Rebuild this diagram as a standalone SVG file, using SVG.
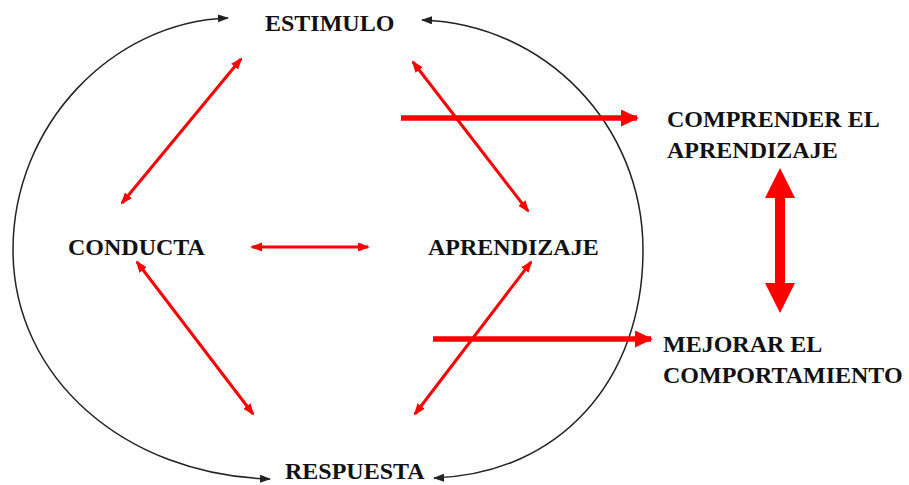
<svg xmlns="http://www.w3.org/2000/svg" width="909" height="485" viewBox="0 0 909 485">
  <style>
    text { font-family: "Liberation Serif", "Times New Roman", serif; font-weight: bold; font-size: 24px; fill: #111; }
    .arc { fill: none; stroke: #222; stroke-width: 1.5; }
    .thin { stroke: #ff0000; stroke-width: 3; fill: none; }
    .thick { stroke: #ff0000; stroke-width: 5.5; fill: none; }
  </style>
  <defs>
    <marker id="hBlack" markerUnits="userSpaceOnUse" markerWidth="12" markerHeight="9" refX="10" refY="4" orient="auto-start-reverse">
      <path d="M0,0 L11,4 L0,8 z" fill="#222"/>
    </marker>
    <marker id="hRed" markerUnits="userSpaceOnUse" markerWidth="13" markerHeight="10" refX="10" refY="4.5" orient="auto-start-reverse">
      <path d="M0,0 L12,4.5 L0,9 z" fill="#ff0000"/>
    </marker>
    <marker id="hRedBig" markerUnits="userSpaceOnUse" markerWidth="19" markerHeight="18" refX="16" refY="8.5" orient="auto-start-reverse">
      <path d="M0,0 L18,8.5 L0,17 z" fill="#ff0000"/>
    </marker>
  </defs>
  <rect width="909" height="485" fill="#fff"/>

  <g id="connectors">
    <path class="arc" d="M228,18 C 112,22 13,125 13,250 C 13,378 125,475 270,479" marker-start="url(#hBlack)" marker-end="url(#hBlack)"/>
    <path class="arc" d="M422,20 C 545,24 643,125 643,250 C 643,380 560,474 434,478" marker-start="url(#hBlack)" marker-end="url(#hBlack)"/>
    <line class="thin" x1="241" y1="59" x2="122" y2="203" marker-start="url(#hRed)" marker-end="url(#hRed)"/>
    <line class="thin" x1="413" y1="62" x2="528" y2="211" marker-start="url(#hRed)" marker-end="url(#hRed)"/>
    <line class="thin" x1="252" y1="247" x2="368" y2="247" marker-start="url(#hRed)" marker-end="url(#hRed)"/>
    <line class="thin" x1="137" y1="262" x2="253" y2="414" marker-start="url(#hRed)" marker-end="url(#hRed)"/>
    <line class="thin" x1="531" y1="262" x2="415" y2="414" marker-start="url(#hRed)" marker-end="url(#hRed)"/>
    <line class="thick" x1="401" y1="118" x2="637" y2="118" marker-end="url(#hRedBig)"/>
    <line class="thick" x1="433" y1="339" x2="651" y2="339" marker-end="url(#hRedBig)"/>
    <polygon fill="#ff0000" points="780,168 765,198 775,198 775,283 765,283 780,313 795,283 785,283 785,198 795,198"/>
  </g>

  <g id="estimulo"><text x="265" y="31">ESTIMULO</text></g>
  <g id="conducta"><text x="68" y="255">CONDUCTA</text></g>
  <g id="aprendizaje"><text x="428" y="255">APRENDIZAJE</text></g>
  <g id="respuesta"><text x="285" y="479">RESPUESTA</text></g>
  <g id="comprender">
    <text x="667" y="127">COMPRENDER EL</text>
    <text x="667" y="158">APRENDIZAJE</text>
  </g>
  <g id="mejorar">
    <text x="663" y="352">MEJORAR EL</text>
    <text x="663" y="383">COMPORTAMIENTO</text>
  </g>
</svg>
